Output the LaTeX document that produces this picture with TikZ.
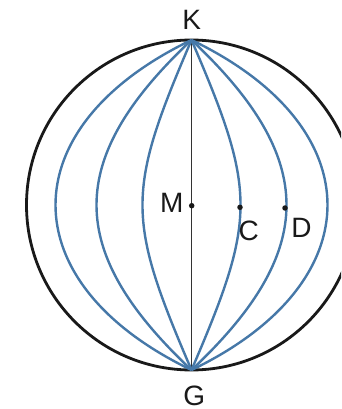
\documentclass[tikz,border=0pt]{standalone}
\usepackage{fontspec}
\setmainfont{Liberation Sans}
\definecolor{lineblue}{RGB}{70,120,168}
\begin{document}
\begin{tikzpicture}[x=1pt,y=1pt,
  meridian/.style={draw=lineblue, line width=2.4pt},
  lbl/.style={font=\fontsize{28}{30}\selectfont, inner sep=0pt, text=black!90},
  pt/.style={circle, fill=black!90, inner sep=0pt, minimum size=5.5pt}]
\useasboundingbox (-191.5,-204) rectangle (149.5,205);
\clip (-191.5,-204) rectangle (149.5,205);
\coordinate (O) at (0,0);
\coordinate (K) at (0,165);
\coordinate (G) at (0,-165);
\draw[line width=2.8pt, black!90] (O) circle[radius=165];
\draw[line width=1.2pt, black!80] (K) -- (G);
\foreach \d/\q in {49/13, 95/46, 136/78, -49/13, -95/46, -136/78}
  \draw[meridian] (K) .. controls ({4*\d/3},\q) and ({4*\d/3},-\q) .. (G);
\node[pt] (M) at (0.2,-0.7) {};
\node[pt] (C) at (48.5,-2.3) {};
\node[pt] (D) at (93.5,-3) {};
\node[lbl] (lK) at (0.3,185) {K};
\node[lbl] (lG) at (2.8,-191.3) {G};
\node[lbl] (lM) at (-19.7,2.3) {M};
\node[lbl] (lC) at (57.3,-25.8) {C};
\node[lbl] (lD) at (110,-23.3) {D};
\end{tikzpicture}
\end{document}
